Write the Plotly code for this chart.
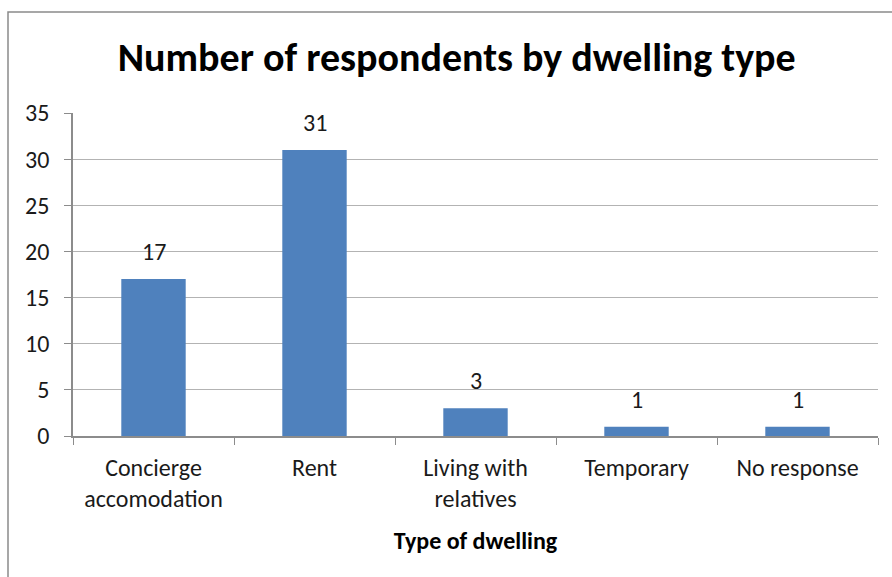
import plotly.graph_objects as go

# Survey results: dwelling type of respondents
categories = ["Concierge<br>accomodation", "Rent", "Living with<br>relatives", "Temporary", "No response"]
counts = [17, 31, 3, 1, 1]
y_ticks = [0, 5, 10, 15, 20, 25, 30, 35]

FONT = "Carlito, Lato, 'Open Sans', sans-serif"
BAR_COLOR = "#4F81BD"
GRID = "#b3b3b3"
AXIS = "#8c8c8c"
TEXT = "#1a1a1a"

fig = go.Figure(
    go.Bar(
        x=categories,
        y=counts,
        marker=dict(color=BAR_COLOR, line=dict(width=0)),
        hoverinfo="x+y",
    )
)

# value labels above each bar
for cat, val in zip(categories, counts):
    fig.add_annotation(
        x=cat, y=val, text=str(val), showarrow=False,
        yanchor="bottom", yshift=11,
        font=dict(family=FONT, size=24, color=TEXT),
    )

# outer chart frame (runs off the right and bottom edges)
fig.add_shape(
    type="rect", xref="paper", yref="paper",
    xsizemode="pixel", ysizemode="pixel", xanchor=0, yanchor=1,
    x0=-65, x1=900, y0=101, y1=-520,
    line=dict(color="#8a8a8a", width=1.5), fillcolor="rgba(0,0,0,0)", layer="below",
)

fig.update_layout(
    width=892, height=577,
    margin=dict(l=73, r=14, t=113, b=141, autoexpand=False),
    paper_bgcolor="white", plot_bgcolor="white",
    bargap=0.6,
    showlegend=False,
    font=dict(family=FONT, color=TEXT),
    title=dict(
        text="<b>Number of respondents by dwelling type</b>",
        x=0.512, xanchor="center", y=0.902, yanchor="middle",
        font=dict(family=FONT, size=40, color="#000000"),
    ),
)

fig.update_xaxes(
    type="category", automargin=False,
    showline=True, linecolor=AXIS, linewidth=1.5,
    ticks="outside", tickson="boundaries", ticklen=7, tickcolor=AXIS, tickwidth=1.2,
    ticklabelstandoff=9,
    tickfont=dict(family=FONT, size=24, color=TEXT),
    showgrid=False,
    title=dict(text="<b>Type of dwelling</b>", standoff=20,
               font=dict(family=FONT, size=24, color="#000000")),
)

fig.update_yaxes(
    range=[0, 35], tickvals=y_ticks, automargin=False,
    showline=True, linecolor=AXIS, linewidth=1.5,
    ticks="outside", ticklen=7, tickcolor=AXIS, tickwidth=1.2,
    ticklabelstandoff=10,
    tickfont=dict(family=FONT, size=24, color=TEXT),
    showgrid=True, gridcolor=GRID, gridwidth=1.2,
    zeroline=False,
)

fig.write_html("out.html")
